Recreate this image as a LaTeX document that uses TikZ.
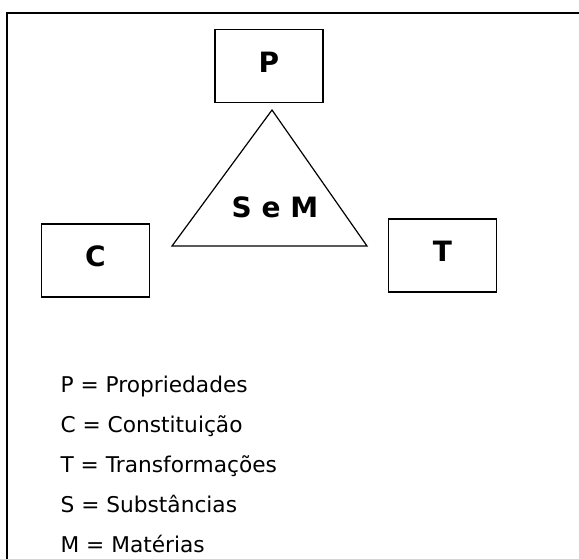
\documentclass[tikz,border=0pt]{standalone}
\usepackage{fontspec}
\setmainfont{DejaVu Sans}
\begin{document}
\begin{tikzpicture}[x=1pt,y=-1pt,line width=1.2pt,
  box/.style={draw,minimum width=108pt,minimum height=73pt,inner sep=0pt,
    font=\fontsize{28}{32}\bfseries\selectfont,text height=20pt,text depth=8pt},
  legend/.style={anchor=base west,inner sep=0pt,font=\fontsize{21.7}{26}\selectfont}]
\useasboundingbox (0,0) rectangle (579,558);
\draw (7,570) -- (7,13) -- (590,13);
\node[box] (P) at (269,66) {P};
\node[box] (C) at (95.5,260.5) {C};
\node[box] (T) at (442.5,255.5) {T};
\coordinate (apex) at (272,110);
\coordinate (bl) at (172,246);
\coordinate (br) at (367,246);
\draw (apex) -- (bl) -- (br) -- cycle;
\node[inner sep=0pt,font=\fontsize{28}{32}\bfseries\selectfont] (SM) at (275,207) {S e M};
\node[legend] (l1) at (60,392) {P = Propriedades};
\node[legend] (l2) at (60,432) {C = Constituição};
\node[legend] (l3) at (60,472) {T = Transformações};
\node[legend] (l4) at (60,512) {S = Substâncias};
\node[legend] (l5) at (60,552) {M = Matérias};
\end{tikzpicture}
\end{document}
